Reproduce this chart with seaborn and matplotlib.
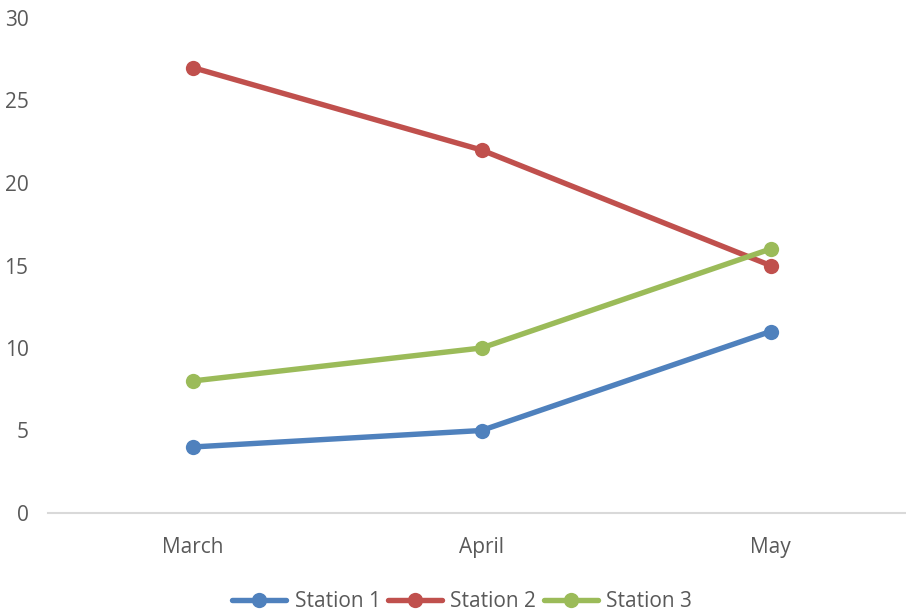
import matplotlib
matplotlib.use("Agg")
import matplotlib.pyplot as plt
import seaborn as sns
import pandas as pd

months = ["March", "April", "May"]
station1 = [4, 5, 11]
station2 = [27, 22, 15]
station3 = [8, 10, 16]
series_names = ["Station 1", "Station 2", "Station 3"]
colors = ["#4F81BD", "#C0504D", "#9BBB59"]

rows = []
for name, vals in zip(series_names, [station1, station2, station3]):
    for i, (m, v) in enumerate(zip(months, vals)):
        rows.append({"month": m, "pos": i, "value": v, "series": name})
df = pd.DataFrame(rows)

sns.set_style("white")
plt.rcParams["font.family"] = ["Open Sans", "DejaVu Sans"]

fig = plt.figure(figsize=(9.06, 6.14), dpi=100)
ax = fig.add_axes([48/906, 101/614, (906-48)/906, 495/614])

sns.lineplot(data=df, x="pos", y="value", hue="series", palette=colors,
             marker="o", markersize=11, linewidth=3.9, markeredgewidth=0,
             ax=ax, legend=True)

ax.set_xlim(-0.5, 2.5 - 9/289)
ax.set_ylim(0, 30)
ax.set_xticks(range(len(months)))
ax.set_xticklabels(months)
ax.set_yticks([0, 5, 10, 15, 20, 25, 30])
ax.set_xlabel("")
ax.set_ylabel("")
for s in ["top", "right", "left"]:
    ax.spines[s].set_visible(False)
ax.spines["bottom"].set_color("#D9D9D9")
ax.spines["bottom"].set_linewidth(1.5)
ax.tick_params(axis="both", length=0, labelsize=15, colors="#595959")
ax.tick_params(axis="x", pad=17)
ax.tick_params(axis="y", pad=14)
for lbl in ax.get_yticklabels():
    lbl.set_horizontalalignment("right")

handles, labels = ax.get_legend_handles_labels()
ax.get_legend().remove()
leg = fig.legend(handles, labels, loc="lower center", ncol=3, frameon=False,
                 bbox_to_anchor=(0.51, -0.028), fontsize=15, handlelength=2.6,
                 columnspacing=0.35, handletextpad=0.4, labelcolor="#595959")

fig.savefig("out.png", dpi=100)
